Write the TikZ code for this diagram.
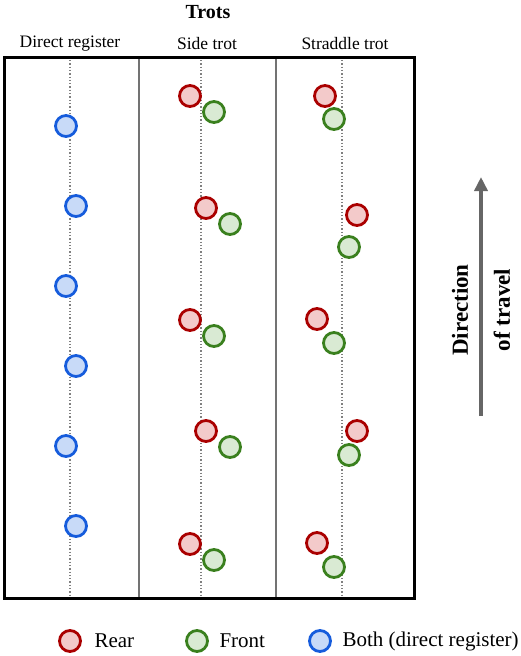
\documentclass[tikz,border=0pt]{standalone}
\usepackage{fontspec}
\setmainfont{Liberation Serif}
\usetikzlibrary{arrows.meta}

\definecolor{rearline}{RGB}{170,0,0}
\definecolor{rearfill}{RGB}{243,202,202}
\definecolor{frontline}{RGB}{58,128,30}
\definecolor{frontfill}{RGB}{217,234,211}
\definecolor{bothline}{RGB}{22,92,220}
\definecolor{bothfill}{RGB}{200,218,248}

\tikzset{
  hoof/.style={circle, line width=2.8pt, minimum size=21pt, inner sep=0pt},
  rear/.style={hoof, draw=rearline, fill=rearfill},
  front/.style={hoof, draw=frontline, fill=frontfill},
  both/.style={hoof, draw=bothline, fill=bothfill},
  track/.style={gray, dotted, line width=1.3pt},
  collabel/.style={font=\fontsize{17.5}{20}\selectfont},
  leglabel/.style={anchor=west, font=\fontsize{21}{24}\selectfont},
  dirlabel/.style={rotate=90, font=\bfseries\fontsize{23}{26}\selectfont},
}

\begin{document}
\begin{tikzpicture}[x=1pt,y=-1pt]
	\useasboundingbox (0,0) rectangle (520,656);
	
	% Title and column labels
	\node[font=\bfseries\fontsize{20}{24}\selectfont] (title) at (208,12) {Trots};
	\node[collabel] (dirlab) at (70,44) {Direct register};
	\node[collabel] (sidelab) at (207,44) {Side trot};
	\node[collabel] (stradlab) at (345,44) {Straddle trot};
	
	% Tracks
	\draw[track] (70,60) -- (70,596);
	\draw[track] (201,60) -- (201,596);
	\draw[track] (342,60) -- (342,596);
	
	% Frame
	\draw[gray!90!black, line width=1.5pt] (139,57) -- (139,598);
	\draw[gray!90!black, line width=1.5pt] (276,57) -- (276,598);
	\draw[line width=3pt] (4,57) rectangle (414,598);
	
	% Direct register
	\begin{scope}
		\node[both] (d1) at (66,126) {};
		\node[both] (d2) at (76,206) {};
		\node[both] (d3) at (66,286) {};
		\node[both] (d4) at (76,366) {};
		\node[both] (d5) at (66,446) {};
		\node[both] (d6) at (76,526) {};
	\end{scope}
	
	% Side trot
	\begin{scope}
		\node[rear] (s1r) at (190,96) {};
		\node[front] (s1f) at (214,112) {};
		\node[rear] (s2r) at (206,208) {};
		\node[front] (s2f) at (230,224) {};
		\node[rear] (s3r) at (190,320) {};
		\node[front] (s3f) at (214,336) {};
		\node[rear] (s4r) at (206,431) {};
		\node[front] (s4f) at (230,447) {};
		\node[rear] (s5r) at (190,544) {};
		\node[front] (s5f) at (214,560) {};
	\end{scope}
	
	% Straddle trot
	\begin{scope}
		\node[rear] (t1r) at (325,96) {};
		\node[front] (t1f) at (334,119) {};
		\node[rear] (t2r) at (357,215) {};
		\node[front] (t2f) at (349,247) {};
		\node[rear] (t3r) at (317,319) {};
		\node[front] (t3f) at (334,343) {};
		\node[rear] (t4r) at (357,431) {};
		\node[front] (t4f) at (349,455) {};
		\node[rear] (t5r) at (317,543) {};
		\node[front] (t5f) at (334,567) {};
	\end{scope}
	
	% Direction of travel
	\coordinate (arrowfoot) at (481,416);
	\coordinate (arrowhead) at (481,177);
	\draw[gray!80!black, line width=3.5pt, -{Triangle[length=14pt,width=13pt]}] (arrowfoot) -- (arrowhead);
	\node[dirlabel] (dirtext) at (460,310) {Direction};
	\node[dirlabel] (oftext) at (502,310) {of travel};
	
	% Legend
	\node[rear] (legrear) at (70,641) {};
	\node[leglabel] (legreartext) at (91,641) {Rear};
	\node[front] (legfront) at (197,641) {};
	\node[leglabel] (legfronttext) at (216,641) {Front};
	\node[both] (legboth) at (320,641) {};
	\node[leglabel] (legbothtext) at (339,641) {Both (direct register)};
	
\end{tikzpicture}
\end{document}
